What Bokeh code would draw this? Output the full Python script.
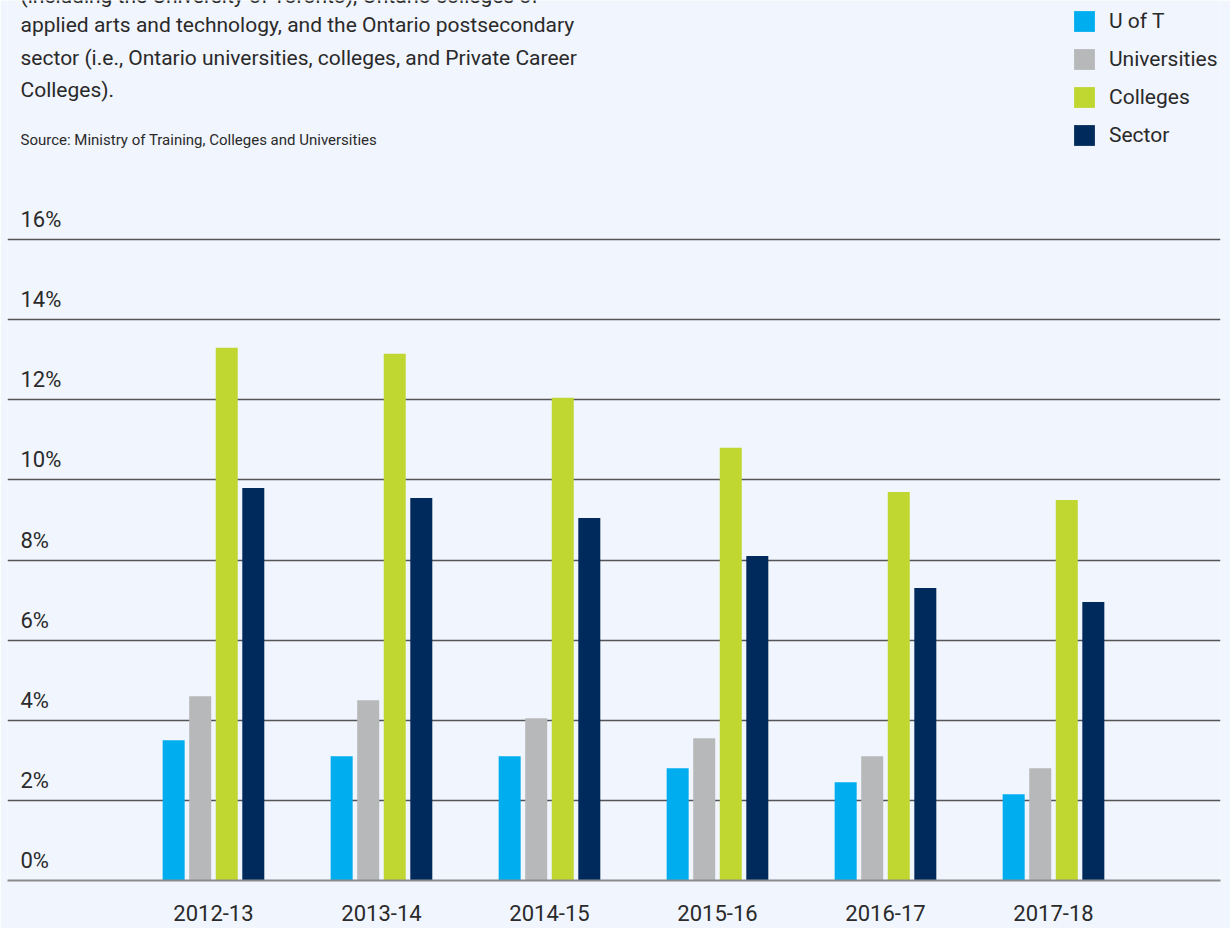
from bokeh.plotting import figure
from bokeh.models import Range1d, FixedTicker, Label, Legend, LegendItem, ColumnDataSource
from bokeh.transform import dodge
from bokeh.core.properties import value
from bokeh.embed import file_html
from bokeh.resources import INLINE

# ---------------- data ----------------
years = ["2012-13", "2013-14", "2014-15", "2015-16", "2016-17", "2017-18"]
series = ["U of T", "Universities", "Colleges", "Sector"]
uoft = [3.5, 3.1, 3.1, 2.8, 2.45, 2.15]
universities = [4.6, 4.5, 4.05, 3.55, 3.1, 2.8]
colleges = [13.3, 13.15, 12.05, 10.8, 9.7, 9.5]
sector = [9.8, 9.55, 9.05, 8.1, 7.3, 6.95]
y_ticks = [0, 2, 4, 6, 8, 10, 12, 14, 16]
y_tick_labels = [f"{t}%" for t in y_ticks]

# ---------------- styles ----------------
FONT = "Roboto"
TEXT = "#2a2a2a"
BG = "#F1F5FD"
colors = ["#00AEEF", "#B7B8BA", "#BFD730", "#002A5C"]
offsets = [-0.237, -0.079, 0.079, 0.237]
bar_w = 0.131

W, H = 1230, 928
LEFT, RIGHT, BOTTOM = 7, 10, 48
FRAME_H = H - BOTTOM
PX_PER_UNIT = 40.06
X_START, X_END = -1.226, 5.994

idx = list(range(len(years)))
src = ColumnDataSource(dict(x=idx, uoft=uoft, universities=universities,
                            colleges=colleges, sector=sector))
cols = ["uoft", "universities", "colleges", "sector"]

p = figure(width=W, height=H, output_backend="svg", toolbar_location=None,
           x_range=Range1d(X_START, X_END),
           y_range=Range1d(0, FRAME_H / PX_PER_UNIT),
           y_axis_location=None,
           min_border_left=LEFT, min_border_right=RIGHT, min_border_top=0,
           min_border_bottom=BOTTOM)
p.background_fill_color = BG
p.border_fill_color = BG
p.outline_line_color = None

p.xgrid.visible = False
p.ygrid.ticker = FixedTicker(ticks=y_ticks)
p.ygrid.grid_line_color = "#555557"
p.ygrid.grid_line_width = 1.5

renderers = []
for c, off, col in zip(cols, offsets, colors):
    r = p.vbar(x=dodge("x", off), top=c, width=bar_w, source=src,
               fill_color=col, line_color=None)
    renderers.append(r)

ax = p.xaxis[0]
ax.ticker = FixedTicker(ticks=idx)
ax.major_label_overrides = {i: y for i, y in zip(idx, years)}
ax.major_tick_line_color = None
ax.minor_tick_line_color = None
ax.axis_line_color = "#8c8c8e"
ax.axis_line_width = 2
ax.major_label_text_font = FONT
ax.major_label_text_font_size = "22px"
ax.major_label_text_color = TEXT
ax.major_label_standoff = 18

# y tick labels placed above their gridlines
ysrc = ColumnDataSource(dict(x=[X_START] * len(y_ticks), y=y_ticks, t=y_tick_labels))
p.text(x="x", y="y", text="t", source=ysrc, x_offset=13, y_offset=-20,
       text_font=value(FONT), text_font_size="22px", text_color=TEXT,
       text_baseline="alphabetic", text_align="left")

# legend
legend = Legend(items=[LegendItem(label=s, renderers=[r]) for s, r in zip(series, renderers)],
                location=(1064, 732), orientation="vertical",
                glyph_width=26, glyph_height=26, label_standoff=12,
                label_text_font=FONT, label_text_font_size="21px",
                label_text_color=TEXT, spacing=12, padding=0, margin=0,
                border_line_color=None, background_fill_alpha=0)
p.add_layout(legend)

# header text
lines = [
    "(including the University of Toronto), Ontario colleges of",
    "applied arts and technology, and the Ontario postsecondary",
    "sector (i.e., Ontario universities, colleges, and Private Career",
    "Colleges).",
]
baselines = [-5, 24, 57, 89]
for s, b in zip(lines, baselines):
    p.add_layout(Label(x=13, y=FRAME_H - b, x_units="screen", y_units="screen",
                       text=s, text_font=FONT, text_font_size="21px",
                       text_color=TEXT, text_baseline="alphabetic"))
p.add_layout(Label(x=13, y=FRAME_H - 139, x_units="screen", y_units="screen",
                   text="Source: Ministry of Training, Colleges and Universities",
                   text_font=FONT, text_font_size="15px",
                   text_color=TEXT, text_baseline="alphabetic"))

open("out.html", "w").write(file_html(p, INLINE))
